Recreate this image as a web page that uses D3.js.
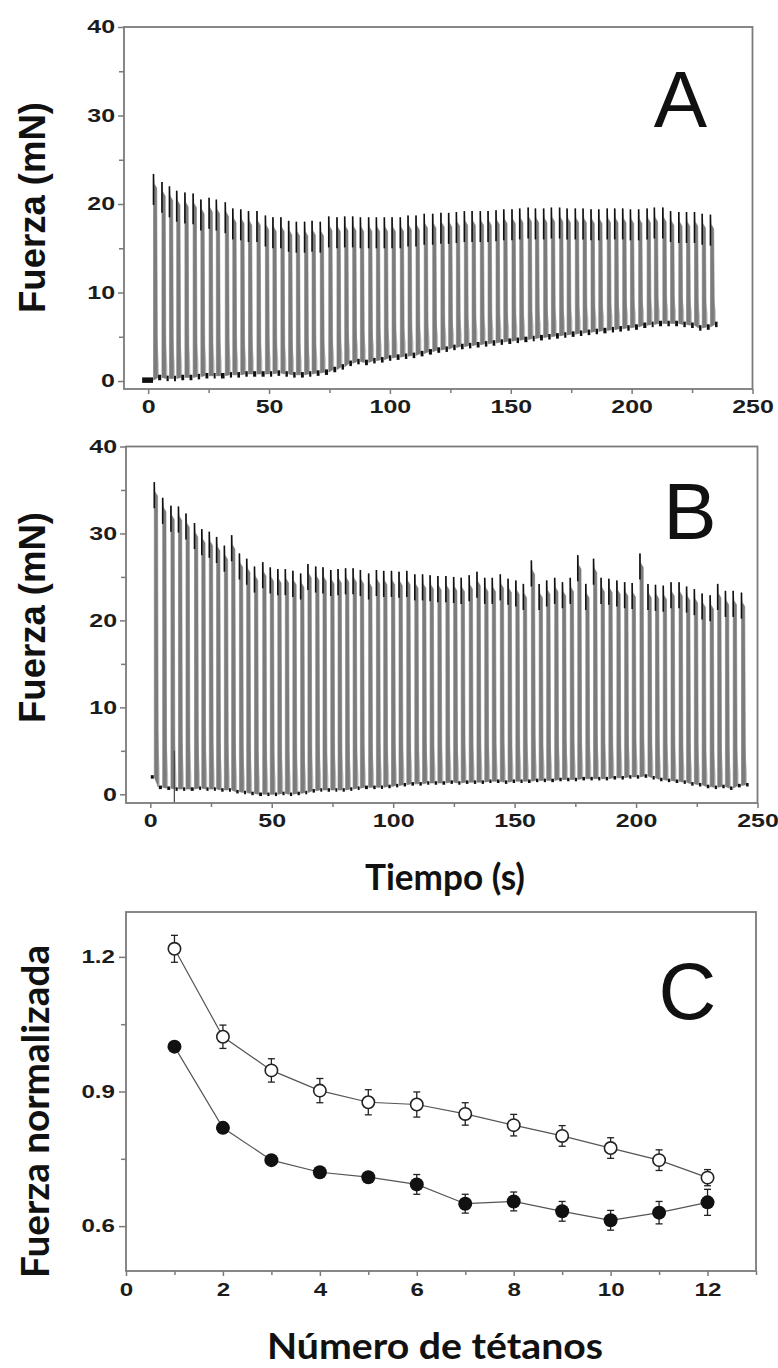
<!DOCTYPE html>
<html>
<head>
<meta charset="utf-8">
<script src="https://cdn.jsdelivr.net/npm/d3@7"></script>
<style>
  body { margin: 0; background: #fff; }
</style>
</head>
<body>
<svg id="fig" width="778" height="1368"></svg>
<script>
// ---- panel A : force trace (start time of each tetanus, peak and rest level, mN)
var timesA = [2.2, 5.7, 8.8, 11.8, 15.2, 18.6, 21.8, 25.2, 28.2, 31.9, 35.0, 38.3, 41.5, 45.0, 48.5, 51.6,
  54.9, 58.1, 61.3, 64.7, 67.8, 71.2, 74.7, 78.1, 81.3, 84.6, 87.8, 91.2, 94.4, 97.7, 100.9,
  104.3, 107.5, 110.8, 114.2, 117.7, 121.1, 124.3, 127.5, 130.8, 134.0, 137.4, 140.6, 143.9, 147.1,
  150.5, 153.7, 157.2, 160.2, 163.6, 166.8, 170.2, 173.3, 176.7, 179.9, 183.2, 186.4, 189.9, 193.0,
  196.3, 199.5, 202.9, 206.4, 209.4, 212.9, 216.1, 219.5, 222.7, 226.0, 229.2, 232.6];
var peaksA = [23.4, 22.5, 22.0, 21.5, 21.3, 21.2, 20.5, 20.7, 20.5, 20.2, 19.5, 19.4, 19.2, 19.2, 18.7, 18.5,
  18.5, 18.1, 18.0, 18.0, 18.1, 18.0, 18.6, 18.5, 18.6, 18.6, 18.5, 18.5, 18.5, 18.5, 18.5,
  18.5, 18.7, 18.7, 18.9, 18.9, 19.0, 19.0, 19.1, 19.2, 19.2, 19.2, 19.2, 19.3, 19.4,
  19.4, 19.5, 19.6, 19.5, 19.5, 19.6, 19.6, 19.5, 19.5, 19.5, 19.4, 19.4, 19.5, 19.5,
  19.5, 19.4, 19.4, 19.5, 19.6, 19.6, 19.2, 19.1, 19.1, 19.1, 18.9, 18.8];
var restA = [0.4, 0.3, 0.3, 0.4, 0.4, 0.5, 0.6, 0.6, 0.6, 0.7, 0.7, 0.8, 0.8, 0.8, 0.8, 0.9,
  0.8, 0.7, 0.7, 0.8, 0.9, 1.0, 1.3, 1.6, 2.0, 2.2, 2.1, 2.3, 2.4, 2.6, 2.7,
  2.8, 2.9, 3.1, 3.3, 3.5, 3.6, 3.8, 3.9, 4.0, 4.1, 4.2, 4.3, 4.4, 4.5,
  4.6, 4.7, 4.8, 4.9, 5.0, 5.1, 5.2, 5.3, 5.4, 5.5, 5.6, 5.7, 5.8, 5.9,
  6.0, 6.1, 6.3, 6.4, 6.5, 6.5, 6.5, 6.4, 6.3, 6.0, 6.1, 6.4];
var preA = [-2.5, 0.1];   // [start time, resting force] before the first tetanus

// ---- panel B : force trace
var timesB = [1.65, 5.1, 8.5, 11.6, 14.7, 18.2, 21.2, 24.3, 27.3, 30.5, 33.5, 36.7, 39.7, 42.9, 46.3, 49.4,
  52.5, 55.6, 58.7, 61.9, 64.9, 68.1, 71.1, 74.3, 77.3, 80.4, 83.5, 86.5, 89.9, 93.1, 96.1, 99.3,
  102.4, 105.6, 108.9, 112.1, 115.2, 118.4, 121.7, 124.9, 128.0, 131.3, 134.5, 137.7, 140.8, 144.1,
  147.3, 150.5, 153.6, 156.9, 160.1, 163.2, 166.5, 169.7, 172.9, 176.0, 179.3, 182.5, 185.6, 188.8,
  192.1, 195.3, 198.4, 201.6, 204.9, 208.0, 211.2, 214.4, 217.7, 220.8, 224.0, 227.2, 230.5, 233.6,
  236.8, 240.0, 243.4];
var peaksB = [35.9, 34.1, 33.2, 33.1, 32.3, 31.2, 30.5, 30.2, 29.6, 28.6, 29.8, 27.7, 27.1, 26.2, 26.7, 26.1,
  25.9, 25.9, 25.7, 25.4, 26.5, 26.2, 26.1, 25.8, 25.9, 26.0, 26.0, 25.8, 25.4, 25.8, 25.7, 25.7,
  25.6, 25.7, 25.3, 25.3, 25.2, 25.1, 25.1, 25.0, 24.9, 25.2, 25.6, 24.9, 24.9, 25.3,
  24.8, 24.6, 24.2, 26.9, 24.2, 24.6, 24.9, 24.4, 24.9, 27.5, 24.2, 27.1, 24.9, 24.8,
  24.6, 24.4, 24.3, 27.7, 24.2, 24.1, 24.0, 24.4, 24.4, 23.9, 23.6, 23.1, 22.9, 24.2,
  23.4, 23.4, 23.2];
var restB = [0.8, 0.7, 0.6, 0.6, 0.6, 0.7, 0.6, 0.6, 0.5, 0.5, 0.3, 0.2, 0.1, 0.0, 0.0, 0.0,
  0.1, 0.0, 0.1, 0.2, 0.4, 0.5, 0.5, 0.5, 0.5, 0.6, 0.7, 0.8, 0.8, 0.8, 0.9, 1.0,
  1.1, 1.2, 1.2, 1.3, 1.3, 1.3, 1.4, 1.3, 1.4, 1.4, 1.4, 1.5, 1.5, 1.4,
  1.5, 1.5, 1.5, 1.6, 1.6, 1.6, 1.7, 1.7, 1.7, 1.8, 1.8, 1.8, 1.8, 1.9,
  1.9, 2.0, 2.0, 2.1, 1.9, 1.7, 1.6, 1.5, 1.4, 1.2, 1.1, 0.9, 0.8, 0.9,
  0.7, 1.0, 1.1];
var preB = [0.2, 2.0];
var artifactB = [9.9, 5.0, -1.0];   // time, top, bottom of the stimulus artefact

// ---- panel C : normalised force vs tetanus number
var tetanos = [1, 2, 3, 4, 5, 6, 7, 8, 9, 10, 11, 12];
var openC = [1.218, 1.022, 0.947, 0.902, 0.876, 0.871, 0.850, 0.825, 0.801, 0.774, 0.747, 0.708];
var openErr = [0.030, 0.026, 0.026, 0.027, 0.028, 0.028, 0.025, 0.024, 0.023, 0.023, 0.023, 0.018];
var fillC = [1.000, 0.819, 0.747, 0.720, 0.709, 0.693, 0.650, 0.655, 0.633, 0.613, 0.630, 0.653];
var fillErr = [0.006, 0.010, 0.010, 0.010, 0.010, 0.022, 0.021, 0.021, 0.022, 0.022, 0.025, 0.029];

var tTicks = [0, 50, 100, 150, 200, 250];
var tMinor = [25, 75, 125, 175, 225];
var fTicks = [0, 10, 20, 30, 40];
var fMinor = [5, 15, 25, 35];
var nTicks = [0, 2, 4, 6, 8, 10, 12];
var nMinor = [1, 3, 5, 7, 9, 11, 13];
var cTicks = [0.6, 0.9, 1.2];
var cMinor = [0.75, 1.05];

var svg = d3.select("#fig");
var frameCol = "#7b7b7b";
var numFont = "'Liberation Sans', Arial, sans-serif";
var lblFont = "Lato, 'Open Sans', sans-serif";

function stretch(sel, k) {
    sel.selectAll("text").each(function() {
        var w = this.getComputedTextLength();
        d3.select(this).attr("textLength", w * k).attr("lengthAdjust", "spacingAndGlyphs");
    });
}

function styleAxis(g, size) {
    g.select(".domain").remove();
    g.selectAll("line").attr("stroke", frameCol).attr("stroke-width", 1.5);
    g.selectAll("text").attr("font-family", numFont).attr("font-weight", "bold")
     .attr("font-size", size).attr("fill", "#1c1c1c");
}

function frame(x, y) {
    svg.append("rect")
       .attr("x", x.range()[0]).attr("y", y.range()[1])
       .attr("width", x.range()[1] - x.range()[0]).attr("height", y.range()[0] - y.range()[1])
       .attr("fill", "none").attr("stroke", frameCol).attr("stroke-width", 1.8);
}

function axes(x, y, xt, xm, yt, ym, opt) {
    var bottom = y.range()[0], left = x.range()[0];
    var gx = svg.append("g").attr("transform", "translate(0," + bottom + ")");
    gx.call(d3.axisBottom(x).tickValues(xm).tickSize(4).tickFormat(""));
    styleAxis(gx, opt.fs);
    var gx2 = svg.append("g").attr("transform", "translate(0," + bottom + ")");
    gx2.call(d3.axisBottom(x).tickValues(xt).tickSize(5).tickPadding(opt.xpad).tickFormat(opt.xf || d3.format("d")));
    styleAxis(gx2, opt.fs);
    stretch(gx2, opt.k);

    var gy = svg.append("g").attr("transform", "translate(" + left + ",0)");
    gy.call(d3.axisLeft(y).tickValues(ym).tickSize(5).tickFormat(""));
    styleAxis(gy, opt.fs);
    var gy2 = svg.append("g").attr("transform", "translate(" + left + ",0)");
    gy2.call(d3.axisLeft(y).tickValues(yt).tickSize(opt.ytick).tickPadding(opt.ypad).tickFormat(opt.yf || d3.format("d")));
    styleAxis(gy2, opt.fs);
    stretch(gy2, opt.k);
}

function trace(x, y, ts, pks, rs, pre, opt) {
    var ln = d3.line().x(d => x(d[0])).y(d => y(d[1]));
    var g = svg.append("g");
    // resting force before the first tetanus
    g.append("path").attr("d", ln([[pre[0], pre[1]], [ts[0] - 0.2, pre[1]]]))
     .attr("fill", "none").attr("stroke", "#111").attr("stroke-width", opt.dash);
    ts.forEach(function(t, i) {
        var pk = pks[i], r = rs[i], pr = i ? rs[i - 1] : pre[1];
        var end = t + opt.dur;
        // pale relaxation shoulder
        g.append("path")
         .attr("d", ln([[t + 0.4, pr], [t + 0.4, pr + (pk - pr) * 0.4], [end + 0.6, r + 1.5], [end + 0.6, r]]) + "Z")
         .attr("fill", "#c4c4c4");
        // tetanic plateau
        g.append("path")
         .attr("d", ln([[t, pr], [t, pk], [t + 0.3, pk - 1.1], [end - 0.3, pk - 1.6], [end, r]]) + "Z")
         .attr("fill", "#7c7c7c").attr("stroke", "#7c7c7c").attr("stroke-width", 0.6);
        // sharp dark onset at the top
        g.append("path").attr("d", ln([[t, pk], [t, pk - opt.black]]))
         .attr("fill", "none").attr("stroke", "#111").attr("stroke-width", 1.6);
        // rest level until the next tetanus
        var nx = i < ts.length - 1 ? ts[i + 1] : end + 1.6;
        g.append("path").attr("d", ln([[end + 0.25, r], [nx - 0.3, r]]))
         .attr("fill", "none").attr("stroke", "#111").attr("stroke-width", opt.dash);
    });
    return g;
}

function letter(s, x, y) {
    svg.append("text").attr("x", x).attr("y", y).attr("text-anchor", "middle")
       .attr("font-family", numFont).attr("font-size", 80).attr("fill", "#111").text(s);
}

function ylabel(s, x, y, font, size, len) {
    var t = svg.append("text").attr("transform", "translate(" + x + "," + y + ") rotate(-90)")
       .attr("text-anchor", "middle").attr("font-family", font).attr("font-weight", "bold")
       .attr("font-size", size).attr("fill", "#111").text(s);
    if (len) t.attr("textLength", len).attr("lengthAdjust", "spacingAndGlyphs");
}

function xlabel(s, x, y, size, len) {
    svg.append("text").attr("x", x).attr("y", y).attr("text-anchor", "middle")
       .attr("font-family", lblFont).attr("font-weight", "bold").attr("font-size", size)
       .attr("fill", "#111").attr("textLength", len).attr("lengthAdjust", "spacingAndGlyphs").text(s);
}

// ---------------- panel A
var xA = d3.scaleLinear().domain([-10, 250]).range([124, 752.5]);
var yA = d3.scaleLinear().domain([-0.9, 40]).range([389, 27]);
trace(xA, yA, timesA, peaksA, restA, preA, {dur: 1.65, black: 3.5, dash: 5.5});
frame(xA, yA);
axes(xA, yA, tTicks, tMinor, fTicks, fMinor, {fs: 18.5, k: 1.35, xpad: 6, ytick: 6, ypad: 3});
letter("A", 680.5, 127);
ylabel("Fuerza (mN)", 45, 207.5, numFont, 36.5);

// ---------------- panel B
var xB = d3.scaleLinear().domain([-10, 250]).range([126, 757.5]);
var yB = d3.scaleLinear().domain([-1, 40]).range([803, 446.5]);
var gB = trace(xB, yB, timesB, peaksB, restB, preB, {dur: 1.65, black: 3, dash: 3.5});
gB.append("line")
  .attr("x1", xB(artifactB[0])).attr("x2", xB(artifactB[0]))
  .attr("y1", yB(artifactB[1])).attr("y2", yB(artifactB[2]))
  .attr("stroke", "#444").attr("stroke-width", 1.2);
frame(xB, yB);
axes(xB, yB, tTicks, tMinor, fTicks, fMinor, {fs: 18.5, k: 1.35, xpad: 6, ytick: 6, ypad: 3});
letter("B", 690, 539);
ylabel("Fuerza (mN)", 45, 617.5, numFont, 36.5);
xlabel("Tiempo (s)", 445, 890, 37, 160);

// ---------------- panel C
var xC = d3.scaleLinear().domain([0, 13]).range([126, 756]);
var yC = d3.scaleLinear().domain([0.5, 1.3]).range([1271, 912]);
frame(xC, yC);
axes(xC, yC, nTicks, nMinor, cTicks, cMinor, {fs: 17.5, k: 1.38, xpad: 8, ytick: 7, ypad: 4, yf: d3.format(".1f")});

var lnC = d3.line().x((d, i) => xC(tetanos[i])).y(d => yC(d));
[openC, fillC].forEach(function(s) {
    svg.append("path").attr("d", lnC(s)).attr("fill", "none").attr("stroke", "#555").attr("stroke-width", 1.2);
});
function errbars(vals, errs) {
    var g = svg.append("g");
    vals.forEach(function(v, i) {
        var cx = xC(tetanos[i]);
        g.append("line").attr("x1", cx).attr("x2", cx).attr("y1", yC(v - errs[i])).attr("y2", yC(v + errs[i]));
        [v - errs[i], v + errs[i]].forEach(function(e) {
            g.append("line").attr("x1", cx - 3.5).attr("x2", cx + 3.5).attr("y1", yC(e)).attr("y2", yC(e));
        });
    });
    g.selectAll("line").attr("stroke", "#222").attr("stroke-width", 1.3);
}
errbars(openC, openErr);
errbars(fillC, fillErr);
svg.append("g").selectAll("circle").data(openC).enter().append("circle")
   .attr("cx", (d, i) => xC(tetanos[i])).attr("cy", d => yC(d)).attr("r", 6.2)
   .attr("fill", "#fff").attr("stroke", "#222").attr("stroke-width", 1.6);
svg.append("g").selectAll("circle").data(fillC).enter().append("circle")
   .attr("cx", (d, i) => xC(tetanos[i])).attr("cy", d => yC(d)).attr("r", 7)
   .attr("fill", "#111");
letter("C", 687.5, 1019);
ylabel("Fuerza normalizada", 48.5, 1111.5, lblFont, 38, 333);
xlabel("Número de tétanos", 435, 1359, 36, 336);
</script>
</body>
</html>
